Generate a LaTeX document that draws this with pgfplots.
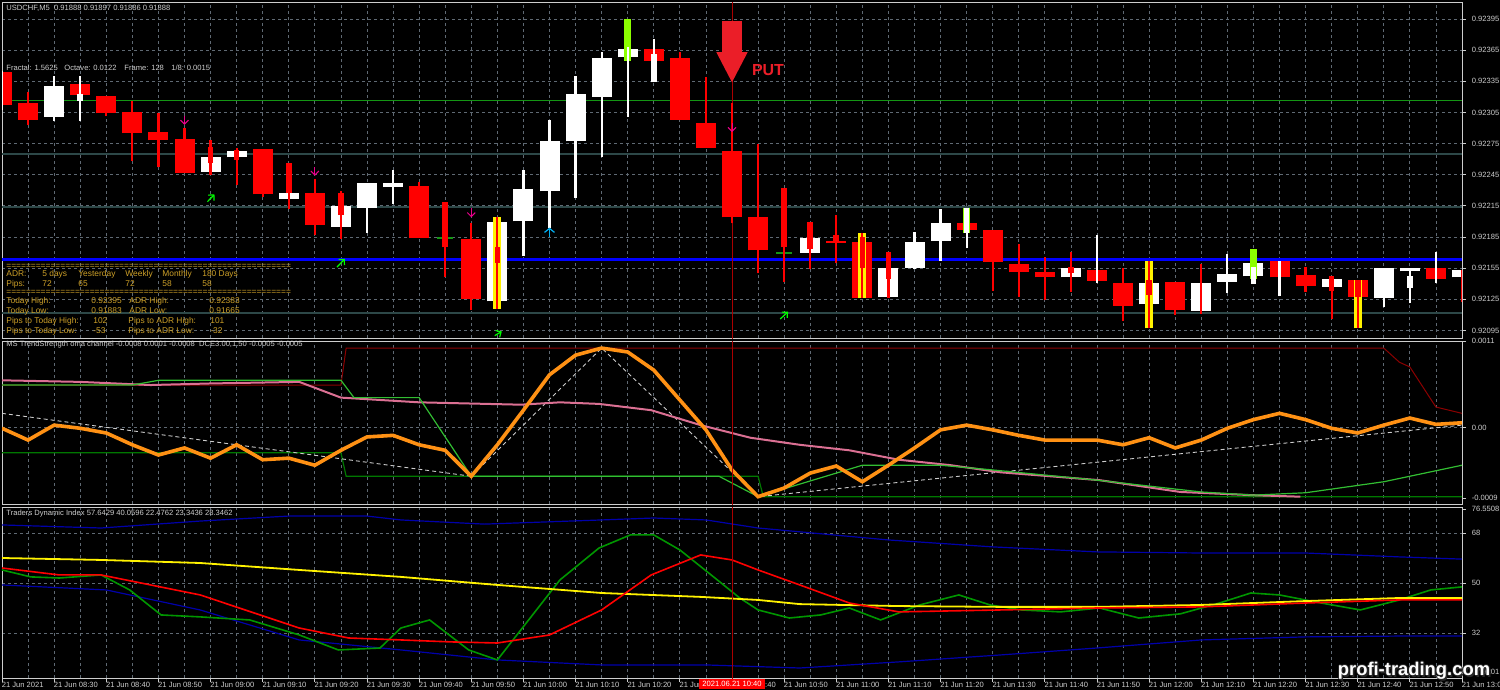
\documentclass[border=0pt]{standalone}
\usepackage{fontspec}
\setmainfont{Liberation Sans}
\usepackage{pgfplots}
\usepackage{pgfplotstable}
\pgfplotsset{compat=1.18}
\usetikzlibrary{arrows.meta}

\definecolor{fg}{RGB}{205,205,205}
\definecolor{gridc}{RGB}{95,105,115}
\definecolor{lvl}{RGB}{45,72,72}
\definecolor{lvlgreen}{RGB}{20,150,20}
\definecolor{putred}{RGB}{235,30,40}
\definecolor{gold}{RGB}{205,160,40}
\definecolor{orng}{RGB}{255,145,20}
\definecolor{pinkl}{RGB}{219,112,147}
\definecolor{greenl}{RGB}{50,190,50}
\definecolor{dred}{RGB}{140,0,0}
\definecolor{dgreen}{RGB}{0,120,0}
\definecolor{navyl}{RGB}{0,0,170}
\definecolor{tdigreen}{RGB}{0,150,0}
\definecolor{vred}{RGB}{170,0,0}
\definecolor{lime}{RGB}{140,255,0}

\newcommand{\tf}{\fontsize{3.8}{4.5}\selectfont}
\newcommand{\af}{\fontsize{4.2}{5}\selectfont}

% candle pieces: bar index, bottom and top price
\pgfplotstableread{
i lo hi
0 0.92312 0.92344
1 0.92298 0.92314
3 0.92322 0.92332
4 0.92304 0.92321
5 0.92285 0.92305
6 0.92278 0.92286
7 0.92247 0.92279
10 0.92226 0.92270
12 0.92197 0.92227
16 0.92184 0.92234
18 0.92125 0.92183
25 0.92355 0.92366
26 0.92298 0.92357
27 0.92271 0.92295
28 0.92204 0.92268
29 0.92172 0.92204
32 0.92179 0.92181
33 0.92126 0.92180
37 0.92192 0.92198
38 0.92161 0.92192
39 0.92151 0.92159
40 0.92146 0.92151
42 0.92143 0.92153
43 0.92119 0.92141
45 0.92115 0.92142
49 0.92146 0.92162
50 0.92138 0.92148
52 0.92127 0.92144
55 0.92145 0.92155
}\redbody
\pgfplotstableread{
i lo hi
2 0.92301 0.92330
8 0.92248 0.92262
9 0.92262 0.92268
11 0.92222 0.92227
13 0.92195 0.92215
14 0.92213 0.92237
15 0.92233 0.92237
19 0.92123 0.92199
20 0.92200 0.92231
21 0.92229 0.92277
22 0.92277 0.92323
23 0.92320 0.92357
24 0.92358 0.92366
31 0.92170 0.92184
34 0.92127 0.92155
35 0.92155 0.92180
36 0.92181 0.92198
41 0.92146 0.92155
44 0.92120 0.92141
46 0.92114 0.92141
47 0.92142 0.92149
48 0.92147 0.92160
51 0.92137 0.92145
53 0.92126 0.92155
54 0.92152 0.92155
56 0.92146 0.92153
}\whitebody
\pgfplotstableread{
i lo hi
17 0.92183 0.92185
30 0.92169 0.92171
}\greenbody
\pgfplotstableread{
i lo hi
19 0.92116 0.92204
33 0.92126 0.92189
44 0.92097 0.92162
52 0.92097 0.92144
}\yellowbar
\pgfplotstableread{
i lo hi
24 0.92355 0.92395
37 0.92189 0.92213
48 0.92145 0.92173
}\limebar
\pgfplotstableread{
i lo hi
8 0.92256 0.92272
9 0.92259 0.92269
11 0.92227 0.92256
13 0.92206 0.92227
17 0.92175 0.92219
19 0.92160 0.92175
30 0.92175 0.92232
31 0.92173 0.92199
32 0.92181 0.92187
33 0.92155 0.92185
34 0.92145 0.92171
41 0.92150 0.92156
44 0.92129 0.92144
51 0.92133 0.92147
52 0.92127 0.92144
}\redthick
\pgfplotstableread{
i lo hi
3 0.92316 0.92323
25 0.92334 0.92361
37 0.92189 0.92213
48 0.92140 0.92156
54 0.92136 0.92147
}\whitethick
\pgfplotstableread{
i lo hi
1 0.92293 0.92325
4 0.92302 0.92321
5 0.92258 0.92316
6 0.92252 0.92304
7 0.92247 0.92290
8 0.92245 0.92278
9 0.92235 0.92271
10 0.92224 0.92270
11 0.92212 0.92256
12 0.92187 0.92241
13 0.92183 0.92229
16 0.92184 0.92238
17 0.92146 0.92219
18 0.92115 0.92198
19 0.92116 0.92204
26 0.92298 0.92363
27 0.92271 0.92339
28 0.92198 0.92314
29 0.92150 0.92275
30 0.92142 0.92232
31 0.92154 0.92199
32 0.92160 0.92206
33 0.92126 0.92189
34 0.92126 0.92171
38 0.92133 0.92192
39 0.92127 0.92178
40 0.92124 0.92166
41 0.92132 0.92171
43 0.92104 0.92155
44 0.92097 0.92162
45 0.92110 0.92142
46 0.92111 0.92159
50 0.92132 0.92156
51 0.92106 0.92147
52 0.92097 0.92144
56 0.92122 0.92153
}\redwick
\pgfplotstableread{
i lo hi
0 0.92307 0.92345
2 0.92297 0.92340
3 0.92297 0.92340
14 0.92189 0.92237
15 0.92217 0.92250
20 0.92167 0.92250
21 0.92194 0.92298
22 0.92223 0.92340
23 0.92262 0.92363
24 0.92301 0.92368
25 0.92334 0.92376
35 0.92154 0.92190
36 0.92162 0.92212
37 0.92174 0.92213
42 0.92141 0.92187
47 0.92131 0.92169
49 0.92128 0.92162
53 0.92118 0.92155
54 0.92121 0.92155
55 0.92141 0.92171
}\whitewick

% MS TrendStrength panel
\pgfplotstableread{
i v
0 -0.00001
1 -0.00016
2 0.00003
3 -0.00001
4 -0.00007
5 -0.00022
6 -0.00035
7 -0.00026
8 -0.00039
9 -0.00022
10 -0.00041
11 -0.00039
12 -0.00048
13 -0.00029
14 -0.00012
15 -0.00010
16 -0.00022
17 -0.00029
18 -0.00062
19 -0.00022
20 0.00022
21 0.00067
22 0.00092
23 0.00101
24 0.00096
25 0.00073
26 0.00035
27 -0.00003
28 -0.00054
29 -0.00088
30 -0.00077
31 -0.00058
32 -0.00049
33 -0.00069
34 -0.00048
35 -0.00026
36 -0.00003
37 0.00003
38 -0.00003
39 -0.00010
40 -0.00016
41 -0.00016
42 -0.00016
43 -0.00022
44 -0.00013
45 -0.00026
46 -0.00016
47 -0.00001
48 0.00010
49 0.00018
50 0.00010
51 -0.00001
52 -0.00007
53 0.00003
54 0.00012
55 0.00004
56 0.00006
}\orangeline
\pgfplotstableread{
i v
0 0.00060
3 0.00058
5.7 0.00054
8 0.00056
11.4 0.00058
13 0.00038
16 0.00032
19.9 0.00029
21.4 0.00032
22.9 0.00030
24.9 0.00022
26.8 0.00003
28.7 -0.00013
30.6 -0.00022
32.5 -0.00029
34.4 -0.00041
36.4 -0.00048
38.3 -0.00057
42.1 -0.00067
45.2 -0.00082
47.9 -0.00086
49.8 -0.00088
}\pinkline
\pgfplotstableread{
i v
0 0.00054
5 0.00054
6 0.00060
13 0.00060
13.5 0.00038
16 0.00038
18 -0.00062
27.5 -0.00062
29 -0.00088
33 -0.00048
36 -0.00048
38 -0.00054
42 -0.00067
46 -0.00082
48 -0.00086
50 -0.00083
53 -0.00069
56 -0.00048
}\limeline
\pgfplotstableread{
i v
0 0.00054
13 0.00054
13.2 0.00101
53 0.00101
53.6 0.00083
54 0.00077
55 0.00026
56 0.00018
}\upband
\pgfplotstableread{
i v
0 -0.00032
13 -0.00032
13.2 -0.00062
29 -0.00062
29.2 -0.00088
56 -0.00088
}\loband
\pgfplotstableread{
i v
0 0.00018
18 -0.00062
23 0.00101
29 -0.00088
56 0.00003
}\trendline

% Traders Dynamic Index panel
\pgfplotstableread{
i v
0 70.9
3.8 69.8
7.6 72.3
11 74.1
14 74.1
15.3 72.7
18.5 71.2
23 72.7
25 73.4
27 72.7
29 69.8
34 65.5
38 63.0
42 61.2
46 60.8
50 60.8
53.6 59.4
56 58.6
}\tdiup
\pgfplotstableread{
i v
0 49.3
4 47.5
7.6 40.3
11.4 29.5
15.3 25.9
19 22.3
23 20.5
27 20.5
30.6 19.4
34.4 21.6
38.3 24.1
42 26.6
46 29.5
50 30.6
53.6 30.9
56 30.9
}\tdilo
\pgfplotstableread{
i v
0 59.0
3.8 58.3
7.6 57.2
11.4 54.7
15.3 52.2
19 49.3
23 46.4
26.8 45.0
29 43.9
30.6 42.4
34.4 41.7
38.3 41.4
42 41.4
46 42.1
50 43.5
53.6 44.6
56 44.6
}\tdimid
\pgfplotstableread{
i v
0 55.4
2.2 52.9
3.8 52.9
7.6 45.7
11.4 33.8
13.3 30.2
15.3 29.5
17.2 28.8
19 28.4
21 31.3
23 40.3
24.9 52.9
26.8 60.1
28 58.3
29 54.7
30.6 49.3
32.5 42.8
34.4 39.6
38.3 40.3
42 41.0
46 41.4
50 42.8
53.6 43.9
56 43.9
}\tdisig
\pgfplotstableread{
i v
0 54.7
1.1 52.2
2.2 51.8
3.8 52.9
4.9 47.5
6.1 38.5
7.6 37.8
9.5 36.7
11.4 31.3
12.9 25.9
14.5 26.6
15.3 33.8
16.4 36.7
17.9 25.9
19 22.3
20.2 36.7
21.4 51.1
22.9 62.6
24.1 67.3
25 67.3
26 61.9
27.2 52.9
28.3 44.6
29 40.3
30.2 37.4
31.4 38.5
32.5 41.0
33.7 36.7
35.2 42.1
36.7 45.7
37.9 42.1
39.1 40.3
40.6 39.6
42.1 41.0
43.6 37.4
45.2 38.9
46.7 42.8
47.9 46.4
49 45.7
50.6 42.8
52.1 40.3
53.6 43.9
54.8 47.5
56 48.6
}\tdirsi

\pgfplotsset{
  mt/.style={
    scale only axis, width=730pt, xmin=0, xmax=56,
    axis line style={fg, line width=0.5pt},
    xtick={0,2,...,56}, minor xtick={1,3,...,55},
    xmajorgrids, xminorgrids, ymajorgrids,
    grid style={gridc, dash pattern=on 1.5pt off 1.5pt, line width=0.4pt},
    ytick pos=right, yticklabel pos=right, xtick pos=bottom,
    tick align=outside, major tick length=2pt, minor tick length=0pt,
    tick style={fg, line width=0.4pt},
    ticklabel style={font=\tf, text=fg},
    yticklabel style={anchor=west, xshift=-0.6pt},
    scaled y ticks=false,
    /pgf/number format/assume math mode=true,
    clip=true,
  },
  piece/.style 2 args={draw=none, mark=none, forget plot,
    error bars/.cd, y dir=plus, y explicit, error mark=none,
    error bar style={draw=#1, line width=#2, line cap=butt, solid}},
}
\newcommand{\piece}[3]{\addplot[piece={#1}{#2}] table[x=i, y=lo, y error expr=\thisrow{hi}-\thisrow{lo}] {#3};}

\begin{document}
\begin{tikzpicture}
\begin{scope}[x=0.5pt,y=-0.5pt]
\useasboundingbox (0,0) rectangle (1500,690);
\fill[black] (0,0) rectangle (1500,690);
\end{scope}
\begin{scope}
\clip (0pt,0pt) rectangle (750pt,-345pt);

% ---------- price panel ----------
\begin{axis}[mt, at={(1pt,-1.5pt)}, anchor=north west, height=167.5pt,
  ymin=0.920877, ymax=0.924104,
  ytick={0.92095,0.92125,0.92155,0.92185,0.92215,0.92245,0.92275,0.92305,0.92335,0.92365,0.92395},
  yticklabels={0.92095,0.92125,0.92155,0.92185,0.92215,0.92245,0.92275,0.92305,0.92335,0.92365,0.92395},
  xticklabels={}, xtick style={draw=none}]
  % levels
  \addplot[lvl, line width=0.8pt] coordinates {(0,0.92265) (56,0.92265)};
  \addplot[lvl, line width=0.8pt] coordinates {(0,0.92214) (56,0.92214)};
  \addplot[lvl, line width=0.8pt] coordinates {(0,0.92112) (56,0.92112)};
  \addplot[lvlgreen, line width=0.5pt] coordinates {(0,0.92316) (56,0.92316)};
  \addplot[blue, line width=1.6pt] coordinates {(0,0.92163) (56,0.92163)};
  \addplot[vred, line width=0.5pt] coordinates {(28,0.92087) (28,0.92411)};
  % candles
  \piece{red}{10pt}{\redbody}
  \piece{white}{10pt}{\whitebody}
  \piece{lvlgreen}{8pt}{\greenbody}
  \piece{yellow}{4pt}{\yellowbar}
  \piece{lime}{3.5pt}{\limebar}
  \piece{red}{2.8pt}{\redthick}
  \piece{white}{2.8pt}{\whitethick}
  \piece{red}{1.1pt}{\redwick}
  \piece{white}{1.1pt}{\whitewick}
  % signal arrows
  \addplot[magenta, line width=0.5pt, -{Straight Barb[length=2pt,width=4pt]},
    quiver={u=0, v=\thisrow{v}}] table[x=i, y=y] {
    i y v
    7 0.92302 -0.00009
    12 0.92252 -0.00008
    18 0.92213 -0.00009
    28 0.92295 -0.00009
  };
  \addplot[cyan, line width=0.6pt, -{Straight Barb[length=2pt,width=5pt]},
    quiver={u=0, v=\thisrow{v}}] table[x=i, y=y] {
    i y v
    21 0.92185 0.00009
  };
  \addplot[green, line width=0.6pt, -{Straight Barb[length=2pt,width=4pt]},
    quiver={u=\thisrow{u}, v=\thisrow{v}}] table[x=i, y=y] {
    i y u v
    7.88 0.92219 0.27 0.00007
    12.85 0.92156 0.30 0.00008
    18.9 0.92090 0.27 0.00004
    29.85 0.92106 0.30 0.00007
  };
  % PUT arrow
  \addplot[fill=putred, draw=none] coordinates {
    (27.62,0.92393) (28.38,0.92393) (28.38,0.92363) (28.6,0.92363)
    (28,0.92334) (27.4,0.92363) (27.62,0.92363)} -- cycle;
\end{axis}

% ---------- trend strength panel ----------
\begin{axis}[mt, at={(1pt,-170.5pt)}, anchor=north west, height=81.5pt,
  ymin=-0.000973, ymax=0.0011,
  ytick={0}, yticklabels={0.00},
  extra y ticks={-0.0009,0.0011}, extra y tick labels={-0.0009,0.0011},
  extra y tick style={grid=none},
  xticklabels={}, xtick style={draw=none}]
  \addplot[dred, line width=0.5pt] table[x=i, y=v] {\upband};
  \addplot[dgreen, line width=0.6pt] table[x=i, y=v] {\loband};
  \addplot[white!80!black, line width=0.45pt, dash pattern=on 2pt off 1.5pt] table[x=i, y=v] {\trendline};
  \addplot[pinkl, line width=1pt] table[x=i, y=v] {\pinkline};
  \addplot[greenl, line width=0.6pt] table[x=i, y=v] {\limeline};
  \addplot[orng, line width=1.8pt] table[x=i, y=v] {\orangeline};
  \addplot[vred, line width=0.5pt] coordinates {(28,-0.001) (28,0.0012)};
\end{axis}

% ---------- traders dynamic index panel ----------
\begin{axis}[mt, at={(1pt,-253.5pt)}, anchor=north west, height=85.5pt,
  ymin=15.8, ymax=77.36,
  ytick={32,50,68},
  extra y ticks={17.9201,76.5508}, extra y tick labels={17.9201,76.5508},
  extra y tick style={grid=none},
  xticklabels={21 Jun 2021,21 Jun 08:30,21 Jun 08:40,21 Jun 08:50,21 Jun 09:00,21 Jun 09:10,21 Jun 09:20,21 Jun 09:30,21 Jun 09:40,21 Jun 09:50,21 Jun 10:00,21 Jun 10:10,21 Jun 10:20,21 Jun 10:30,21 Jun 10:40,21 Jun 10:50,21 Jun 11:00,21 Jun 11:10,21 Jun 11:20,21 Jun 11:30,21 Jun 11:40,21 Jun 11:50,21 Jun 12:00,21 Jun 12:10,21 Jun 12:20,21 Jun 12:30,21 Jun 12:40,21 Jun 12:50,21 Jun 13:00},
  xticklabel style={anchor=north west, xshift=-0.8pt, yshift=0.8pt, inner sep=0.5pt}]
  \addplot[navyl, line width=0.6pt] table[x=i, y=v] {\tdiup};
  \addplot[navyl, line width=0.6pt] table[x=i, y=v] {\tdilo};
  \addplot[tdigreen, line width=0.8pt] table[x=i, y=v] {\tdirsi};
  \addplot[yellow, line width=0.9pt] table[x=i, y=v] {\tdimid};
  \addplot[red, line width=0.8pt] table[x=i, y=v] {\tdisig};
  \addplot[vred, line width=0.5pt] coordinates {(28,15) (28,78)};
\end{axis}
\end{scope}

% ---------- texts ----------
\begin{scope}[x=0.5pt,y=-0.5pt]
\node[anchor=west, font=\tf, text=fg, inner sep=0] at (6,8) {USDCHF,M5\ \ 0.91888 0.91897 0.91886 0.91888};
\node[anchor=west, font=\tf, text=fg, inner sep=0] at (6,68) {Fractal: 1.5625};
\node[anchor=west, font=\tf, text=fg, inner sep=0] at (64,68) {Octave: 0.0122};
\node[anchor=west, font=\tf, text=fg, inner sep=0] at (124,68) {Frame: 128};
\node[anchor=west, font=\tf, text=fg, inner sep=0] at (171,68) {1/8: 0.0015};
\node[font=\bfseries\fontsize{8}{9}\selectfont, text=putred, inner sep=0] at (768,70) {PUT};

\begin{scope}[every node/.style={anchor=west, font=\af, text=gold, inner sep=0}]
\node at (6,266) {==========================================================};
\node at (6,274) {ADR:}; \node at (42,274) {5 days}; \node at (78,274) {Yesterday};
\node at (125,274) {Weekly}; \node at (162,274) {Monthly}; \node at (202,274) {180 Days};
\node at (6,284) {Pips:}; \node at (42,284) {72}; \node at (78,284) {65};
\node at (125,284) {72}; \node at (162,284) {58}; \node at (202,284) {58};
\node at (6,292) {==========================================================};
\node at (6,301) {Today High:}; \node at (91,301) {0.92395}; \node at (129,301) {ADR High:}; \node at (209,301) {0.92383};
\node at (6,311) {Today Low:}; \node at (91,311) {0.91883}; \node at (129,311) {ADR Low:}; \node at (209,311) {0.91665};
\node at (6,321) {Pips to Today High:}; \node at (93,321) {102}; \node at (128,321) {Pips to ADR High:}; \node at (210,321) {101};
\node at (6,331) {Pips to Today Low:}; \node at (93,331) {-53}; \node at (128,331) {Pips to ADR Low:}; \node at (210,331) {-32};
\end{scope}

\node[anchor=west, font=\tf, text=fg, inner sep=0] at (6,345) {MS TrendStrength oma channel -0.0008 0.0001 -0.0008\ \ DCE3.00,1.50 -0.0005 -0.0005};
\node[anchor=west, font=\tf, text=fg, inner sep=0] at (6,514) {Traders Dynamic Index 57.6429 40.0596 22.4762 23.3436 28.3462};

\node[fill=red, text=white, font=\tf, inner xsep=1.5pt, inner ysep=1.2pt] at (732,684) {2021.06.21 10:40};

\foreach \dx/\dy in {-1/0,1/0,0/-1,0/1,1.5/1.5}
  \node[font=\bfseries\fontsize{9.2}{10}\selectfont, text=black!85, inner sep=0] at (1414+\dx,671+\dy) {profi-trading.com};
\node[font=\bfseries\fontsize{9.2}{10}\selectfont, text=white, inner sep=0] at (1414,671) {profi-trading.com};
\end{scope}
\end{tikzpicture}
\end{document}
